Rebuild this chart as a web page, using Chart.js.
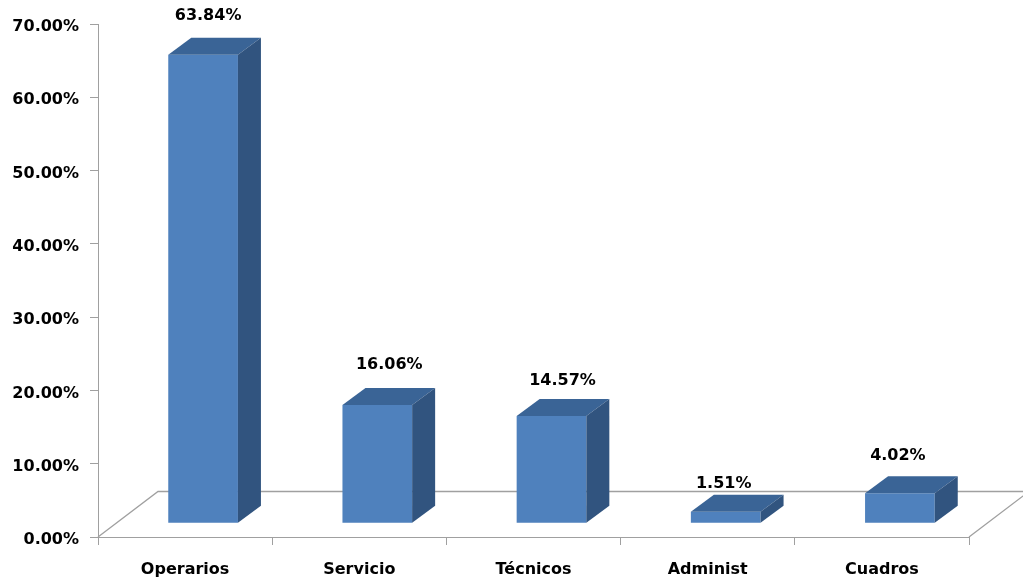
<!DOCTYPE html>
<html><head><meta charset="utf-8">
<style>html,body{margin:0;padding:0;background:#fff}canvas{display:block}</style>
<script src="https://cdn.jsdelivr.net/npm/chart.js@4"></script></head>
<body><div style="width:1023px;height:584px"><canvas id="c" width="1023" height="584"></canvas></div>
<script>
const categories = ["Operarios","Servicio","Técnicos","Administ","Cuadros"];
const percentValues = [63.84,16.06,14.57,1.51,4.02];
const floorLift = 1.95;
const depthX = 23, depthY = 17, barShift = 18;
const labelDx = [5,12,11,-2,-2];
const labelDy = [22,23,18,11,20];
const FONT = '"DejaVu Sans"';
function nudgeLabels(s,dy){
  const d = s.drawLabels;
  s.drawLabels = function(a){ this.ctx.save(); this.ctx.translate(0,dy); d.call(this,a); this.ctx.restore(); };
}
const three = {
  id:'three',
  afterDatasetsUpdate(ch){
    ch.getDatasetMeta(0).data.forEach(b=>{ b.x += barShift; });
  },
  beforeDatasetsDraw(ch){
    const {ctx,chartArea:a,scales:{y}} = ch;
    const y0 = y.getPixelForValue(0);
    const backY = y0-45.5, backL = a.left+60, backR = a.right+60;
    ctx.save();
    ctx.strokeStyle='#a0a0a0'; ctx.lineWidth=1.3;
    ctx.beginPath();
    ctx.moveTo(a.left,y0); ctx.lineTo(backL,backY); ctx.lineTo(backR,backY);
    ctx.moveTo(a.right,y0); ctx.lineTo(backR,backY);
    ctx.stroke();
    ctx.restore();
  },
  afterDatasetsDraw(ch){
    const {ctx} = ch;
    ctx.save();
    ch.getDatasetMeta(0).data.forEach((b,i)=>{
      const l=b.x-b.width/2, r=b.x+b.width/2, t=b.y, bt=b.base;
      ctx.fillStyle='#3a6496';
      ctx.beginPath();
      ctx.moveTo(l,t);ctx.lineTo(l+depthX,t-depthY);ctx.lineTo(r+depthX,t-depthY);ctx.lineTo(r,t);ctx.closePath();ctx.fill();
      ctx.fillStyle='#31547f';
      ctx.beginPath();
      ctx.moveTo(r,t);ctx.lineTo(r+depthX,t-depthY);ctx.lineTo(r+depthX,bt-depthY);ctx.lineTo(r,bt);ctx.closePath();ctx.fill();
      ctx.fillStyle='#000';
      ctx.font='bold 16px '+FONT;
      ctx.textAlign='center';ctx.textBaseline='middle';
      ctx.fillText(percentValues[i].toFixed(2)+'%', b.x+labelDx[i], t-depthY-labelDy[i]);
    });
    ctx.restore();
  }
};
Chart.defaults.font.family = FONT;
new Chart(document.getElementById('c'),{
  type:'bar',
  data:{labels:categories,datasets:[{
    data:percentValues.map(v=>[floorLift,v+floorLift]),
    backgroundColor:'#4f81bd',borderWidth:0,borderSkipped:false,
    categoryPercentage:1,barPercentage:0.4
  }]},
  plugins:[three],
  options:{
    responsive:false,animation:false,
    layout:{padding:{left:0,right:54,top:24,bottom:0}},
    plugins:{legend:{display:false},tooltip:{enabled:false}},
    scales:{
      x:{afterFit(s){s.height=47},
         afterUpdate(s){ if(!s._nudged){ s._nudged=true; nudgeLabels(s,1); } },
         grid:{display:true,drawOnChartArea:false,color:'#a0a0a0',tickLength:8,offset:true},
         border:{color:'#a0a0a0'},
         ticks:{color:'#000',font:{size:16,weight:'bold'},padding:14,maxRotation:0}},
      y:{min:0,max:70,afterFit(s){s.width=98},
         afterUpdate(s){ if(!s._nudged){ s._nudged=true; nudgeLabels(s,3); } },
         grid:{display:true,drawOnChartArea:false,color:'#a0a0a0',tickLength:8},
         border:{color:'#a0a0a0'},
         ticks:{stepSize:10,color:'#000',font:{size:16,weight:'bold'},padding:11,callback:v=>v.toFixed(2)+'%'}}
    }
  }
});
</script></body></html>
